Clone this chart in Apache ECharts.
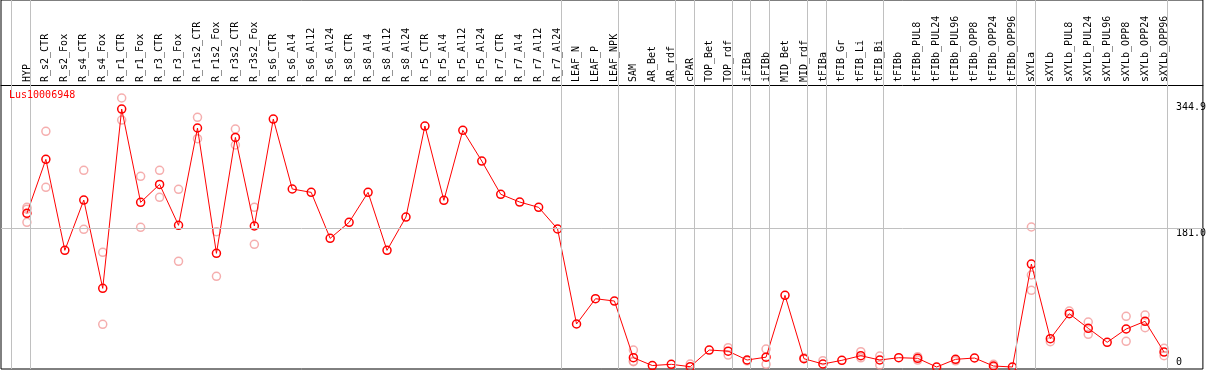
<!DOCTYPE html>
<html>
<head>
<meta charset="utf-8">
<script src="https://cdn.jsdelivr.net/npm/echarts@6/dist/echarts.min.js"></script>
<style>
  html, body { margin: 0; padding: 0; background: #fff; }
  #chart { width: 1209px; height: 370px; }
</style>
</head>
<body>
<div id="chart"></div>
<script>
var geneName = 'Lus10006948';

var categories = ['HYP', 'R_s2_CTR', 'R_s2_Fox', 'R_s4_CTR', 'R_s4_Fox', 'R_r1_CTR', 'R_r1_Fox',
    'R_r3_CTR', 'R_r3_Fox', 'R_r1s2_CTR', 'R_r1s2_Fox', 'R_r3s2_CTR', 'R_r3s2_Fox',
    'R_s6_CTR', 'R_s6_Al4', 'R_s6_Al12', 'R_s6_Al24', 'R_s8_CTR', 'R_s8_Al4', 'R_s8_Al12', 'R_s8_Al24',
    'R_r5_CTR', 'R_r5_Al4', 'R_r5_Al12', 'R_r5_Al24', 'R_r7_CTR', 'R_r7_Al4', 'R_r7_Al12', 'R_r7_Al24',
    'LEAF_N', 'LEAF_P', 'LEAF_NPK', 'SAM', 'AR_Bet', 'AR_rdf', 'cPAR', 'TOP_Bet', 'TOP_rdf',
    'iFIBa', 'iFIBb', 'MID_Bet', 'MID_rdf', 'tFIBa', 'tFIB_Gr', 'tFIB_Li', 'tFIB_Bi', 'tFIBb',
    'tFIBb_PUL8', 'tFIBb_PUL24', 'tFIBb_PUL96', 'tFIBb_OPP8', 'tFIBb_OPP24', 'tFIBb_OPP96',
    'sXYLa', 'sXYLb', 'sXYLb_PUL8', 'sXYLb_PUL24', 'sXYLb_PUL96', 'sXYLb_OPP8', 'sXYLb_OPP24', 'sXYLb_OPP96'];

// moyenne
var means = [200.1, 270.4, 151.9, 217.4, 102.4, 335.9, 214.4,
    237.8, 184.5, 311.2, 148.0, 299.0, 183.6,
    322.9, 231.8, 227.4, 167.5, 188.4, 227.4, 151.9, 195.3,
    313.8, 217.0, 308.2, 268.2, 224.9, 214.8, 207.9, 179.7,
    56.0, 88.9, 85.9, 12.1, 1.9, 3.5, 0.4, 22.1, 20.6,
    9.1, 12.8, 93.3, 10.8, 3.9, 8.7, 14.7, 9.1, 12.1,
    11.3, 0.0, 10.0, 11.7, 1.3, 0.0,
    134.1, 36.9, 69.4, 50.4, 32.2, 49.5, 59.5, 19.5];

// replicats
var replicates = [[208.0, 205.5, 188.4], [306.9, 234.0], [], [256.1, 179.3], [149.3, 55.6], [350.3, 321.6], [248.3, 181.9],
    [256.1, 221.0], [231.4, 137.6], [325.1, 297.3], [176.2, 118.1], [309.9, 289.1], [208.0, 159.8],
    [], [], [], [], [], [], [], [],
    [], [], [], [], [], [], [], [],
    [], [], [], [22.1, 7.5, 6.9], [], [], [3.9], [], [25.1, 15.6],
    [8.0], [23.4, 3.5], [], [12.0], [8.2], [], [19.9, 12.0], [14.3, 2.6], [],
    [13.5, 9.0], [], [8.0], [], [3.5, 0.0], [],
    [182.3, 119.8, 99.9], [33.0], [72.9], [58.6, 42.6], [], [66.0, 33.5], [67.7, 51.2], [24.3, 14.7]];

// dernier index de chaque groupe
var groupEnds = [-1, 0, 28, 31, 34, 35, 37, 38, 39, 41, 42, 45, 52, 53, 60];

var yTicksTop = [181.0, 344.9];
var yTicksBottom = [0];

var font = 'DejaVu Sans Mono';

var myChart = echarts.init(document.getElementById('chart'));

var meanData = means.map(function (v, i) { return [i, v]; });
var repData = [];
replicates.forEach(function (list, i) {
    list.forEach(function (v) { repData.push([i, v]); });
});

var labelIdx = categories.map(function (c, i) { return i; });

var yBase = {
    type: 'value',
    position: 'right',
    offset: -27,
    min: -2.604,
    max: 477.9,
    axisLine: { show: false },
    axisTick: { show: false },
    splitLine: { show: false }
};

var option = {
    animation: false,
    title: {
        text: geneName,
        left: 9,
        top: 90,
        textStyle: { color: '#ff0000', fontSize: 10, fontWeight: 'normal', fontFamily: font },
        padding: 0
    },
    grid: {
        left: 1,
        right: 3,
        top: 0,
        bottom: 1,
        show: true,
        borderColor: '#000',
        borderWidth: 1,
        backgroundColor: 'transparent'
    },
    xAxis: [{
        type: 'value',
        position: 'top',
        offset: -85,
        min: -1.368,
        max: 62.05,
        axisLine: { show: true, onZero: false, lineStyle: { color: '#000', width: 1 } },
        axisTick: { show: false },
        splitLine: { show: false },
        axisLabel: {
            customValues: labelIdx,
            rotate: -90,
            margin: 3,
            color: '#000',
            fontSize: 10,
            fontFamily: font,
            formatter: function (v) { return categories[Math.round(v)] || ''; }
        }
    }],
    yAxis: [
        Object.assign({}, yBase, {
            axisLabel: {
                customValues: yTicksTop,
                margin: 0,
                align: 'left',
                verticalAlign: 'top',
                color: '#000',
                fontSize: 10,
                fontFamily: font,
                formatter: function (v) { return v.toFixed(1); }
            }
        }),
        Object.assign({}, yBase, {
            axisLabel: {
                customValues: yTicksBottom,
                margin: 0,
                align: 'left',
                verticalAlign: 'bottom',
                color: '#000',
                fontSize: 10,
                fontFamily: font,
                formatter: function (v) { return String(v); }
            }
        })
    ],
    series: [
        {
            name: 'grille',
            type: 'line',
            data: [],
            silent: true,
            markLine: {
                silent: true,
                symbol: 'none',
                animation: false,
                label: { show: false },
                lineStyle: { color: '#c0c0c0', type: 'solid', width: 1 },
                data: groupEnds.map(function (g) { return { xAxis: g + 0.19 }; })
                    .concat([{ yAxis: 181.0 }])
            }
        },
        {
            name: 'replicats',
            type: 'scatter',
            data: repData,
            symbol: 'circle',
            symbolSize: 8,
            itemStyle: { color: 'transparent', borderColor: '#f29a9a', borderWidth: 1.5 },
            z: 3
        },
        {
            name: geneName,
            type: 'line',
            data: meanData,
            symbol: 'circle',
            symbolSize: 8,
            showAllSymbol: true,
            lineStyle: { color: '#ff0000', width: 1 },
            itemStyle: { color: 'transparent', borderColor: '#ff0000', borderWidth: 1.5 },
            z: 4
        }
    ]
};
myChart.setOption(option);
</script>
</body>
</html>
